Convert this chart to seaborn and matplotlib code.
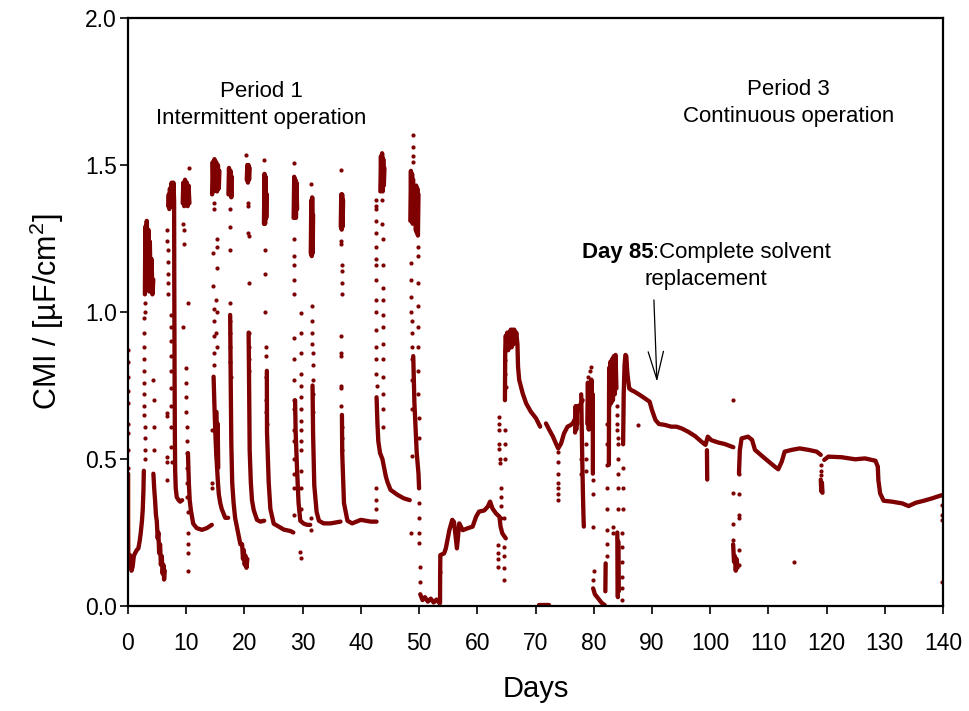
import numpy as np
import pandas as pd
import matplotlib
matplotlib.use("Agg")
import matplotlib.pyplot as plt
import seaborn as sns

nan = np.nan

# ---------------- data ----------------
# dense parts of the CMI record (NaN separates pieces)
p1_day = [0.02, 0.02, 0.05, 0.15, 0.34, 0.6, 0.8, 1.0, 1.2, 1.5, 1.78, 2.0, 2.18, 2.4, 2.53, 2.65, 2.72, nan,
          2.9, 2.98, 3.1, 3.22, 3.35, 3.5, 3.62, 3.75, 3.9, 4.05, 4.2, 4.35, nan,
          4.36, 4.5, 4.65, 4.8, 4.94, 5.1, 5.22, 5.35, 5.51, 5.65, 5.8, 5.95, 6.08, 6.2, 6.32, nan,
          6.9, 7.0, 7.1, 7.2, 7.35, 7.5, 7.65, 7.8, 7.92, 7.95, 8.0, 8.05, 8.1, 8.2, 8.38, 8.7, 8.96, 9.3, nan,
          9.4, 9.5, 9.65, 9.8, 9.95, 10.1, 10.25, 10.4, 10.55, nan,
          10.3, 10.45, 10.6, 10.8, 11.2, 11.8, 12.7, 13.55, 14.4, nan,
          14.45, 14.55, 14.7, 14.85, 15.0, 15.15, 15.3, 15.45, 15.6, 15.7, nan,
          14.7, 14.85, 15.0, 15.15, 15.3, 15.45, 15.6, 15.85, 16.1, 16.7, 17.2, nan,
          15.2, 15.3, 15.4, 15.5, nan,
          17.25, 17.35, 17.5, 17.62, 17.75, 17.85, nan,
          17.55, 17.65, 17.75, 17.9, 18.14, 18.4, 18.7, 19.0, 19.3, 19.6, 19.75, 19.9, 20.05, 20.2, 20.35, 20.5, nan,
          20.4, 20.5, 20.6, 20.7, 20.8, 20.9, nan,
          20.72, 20.8, 20.9, 21.1, 21.3, 21.6, 22.16, 22.73, 23.4, nan,
          23.35, 23.45, 23.55, 23.65, 23.75, 23.85, nan,
          23.85, 23.88, 24.17, 24.46, 25.03, 25.9, 26.75, 27.9, 28.4, nan,
          28.45, 28.55, 28.65, 28.75, 28.85, 28.95, 29.05, nan,
          28.7, 28.8, 29.05, 29.3, 29.6, 30.2, 30.8, 31.3, nan,
          31.4, 31.48, 31.56, 31.64, 31.72, 31.8, nan,
          31.7, 31.8, 32.0, 32.4, 32.8, 33.6, 34.8, 36.5, nan,
          36.55, 36.63, 36.71, 36.79, 36.87, 36.95, nan,
          36.75, 36.8, 37.1, 37.7, 38.5, 40.0, 41.7, 42.7, nan,
          43.35, 43.45, 43.55, 43.65, 43.75, 43.85, 43.95, 44.05, nan,
          42.7, 42.85, 43.0, 43.3, 43.7, 44.0, 44.3, 44.6, 45.1, 46.3, 47.4, 48.4, nan,
          48.5, 48.6, 48.7, 48.8, 48.9, 49.0, nan,
          49.4, 49.5, 49.6, 49.7, 49.8, 49.9, nan,
          49.0, 49.2, 49.6, 49.9, 50.0, nan,
          50.2, 50.6, 51.0, 51.5, 52.0, 52.5, 53.0, 53.5]
p1_cmi = [0.45, 0.30, 0.18, 0.15, 0.173, 0.12, 0.134, 0.17, 0.179, 0.19, 0.196, 0.22, 0.247, 0.29, 0.327, 0.39, 0.46, nan,
          1.06, 1.29, 1.10, 1.31, 1.08, 1.28, 1.07, 1.24, 1.07, 1.18, 1.06, 1.11, nan,
          0.45, 0.40, 0.36, 0.31, 0.29, 0.23, 0.25, 0.18, 0.21, 0.14, 0.17, 0.11, 0.14, 0.09, 0.12, nan,
          1.36, 1.40, 1.35, 1.42, 1.36, 1.44, 1.37, 1.44, 1.38, 1.10, 0.80, 0.58, 0.46, 0.40, 0.37, 0.36, 0.355, 0.36, nan,
          1.37, 1.44, 1.36, 1.45, 1.37, 1.44, 1.36, 1.43, 1.37, nan,
          0.52, 0.42, 0.36, 0.326, 0.28, 0.265, 0.259, 0.265, 0.276, nan,
          1.40, 1.51, 1.41, 1.52, 1.42, 1.51, 1.41, 1.50, 1.42, 1.48, nan,
          0.78, 0.68, 0.59, 0.52, 0.47, 0.42, 0.38, 0.35, 0.33, 0.30, 0.30, nan,
          0.66, 0.50, 0.62, 0.47, nan,
          1.40, 1.49, 1.40, 1.48, 1.39, 1.46, nan,
          0.99, 0.75, 0.55, 0.42, 0.35, 0.30, 0.27, 0.24, 0.21, 0.21, 0.16, 0.19, 0.14, 0.17, 0.13, 0.16, nan,
          1.45, 1.50, 1.44, 1.50, 1.45, 1.49, nan,
          0.93, 0.76, 0.53, 0.42, 0.36, 0.326, 0.293, 0.287, 0.29, nan,
          1.30, 1.47, 1.30, 1.46, 1.32, 1.40, nan,
          0.80, 0.59, 0.42, 0.33, 0.28, 0.27, 0.26, 0.255, 0.25, nan,
          1.32, 1.46, 1.33, 1.45, 1.32, 1.44, 1.35, nan,
          0.70, 0.59, 0.46, 0.35, 0.29, 0.28, 0.276, 0.276, nan,
          1.20, 1.38, 1.19, 1.39, 1.20, 1.33, nan,
          0.75, 0.58, 0.41, 0.32, 0.29, 0.281, 0.281, 0.287, nan,
          1.29, 1.40, 1.28, 1.40, 1.29, 1.38, nan,
          0.65, 0.52, 0.35, 0.29, 0.281, 0.293, 0.287, 0.287, nan,
          1.41, 1.53, 1.42, 1.54, 1.41, 1.52, 1.43, 1.49, nan,
          0.71, 0.62, 0.56, 0.52, 0.50, 0.47, 0.44, 0.42, 0.395, 0.378, 0.366, 0.36, nan,
          1.31, 1.48, 1.32, 1.47, 1.30, 1.45, nan,
          1.28, 1.43, 1.27, 1.42, 1.26, 1.40, nan,
          0.85, 0.69, 0.52, 0.45, 0.40, nan,
          0.04, 0.02, 0.03, 0.015, 0.025, 0.012, 0.022, 0.01]

p2_day = [53.6, 53.62, 53.65, 54.3, 54.6, 55.2, 55.7, 56.0, 56.5, 56.9, 57.5, 58.3, 59.2, 59.8, 60.3, 61.2, 61.8,
          62.2, 62.6, 63.2, 63.8, 64.0, 64.3, 64.9, nan,
          64.75, 64.8, 64.9, 65.0, 65.15, 65.3, 65.45, 65.6, 65.75, 65.9, 66.05, 66.2, 66.35, 66.5, 66.7, 66.9,
          67.0, 67.2, 67.8, 68.4, 69.2, 70.1, 70.8, nan,
          71.8, 72.4, 73.0, 73.5, 73.9, 74.4, 74.9, 75.5, 76.0, 76.4, 76.98, 77.5, 78.1, nan,
          70.6, 72.4, nan,
          76.8, 76.9, 77.0, 77.1, 77.2, nan,
          77.85, 77.95, 78.05, 78.15, 78.25, 78.3, nan,
          78.9, 79.0, 79.15, 79.3, 79.45, 79.6, 79.75, 79.85, 79.85, nan,
          79.9, 80.2, 80.6, 81.0, 81.4, 81.9, nan,
          82.0, 82.05, nan,
          82.6, 82.65, nan,
          82.7, 82.85, 83.0, 83.15, 83.3, 83.45, 83.6, 83.75, 83.9, nan,
          84.05, 84.15, 84.2, 84.3]
p2_cmi = [0.01, 0.10, 0.173, 0.179, 0.196, 0.258, 0.293, 0.286, 0.196, 0.281, 0.258, 0.264, 0.270, 0.304, 0.321, 0.325, 0.338,
          0.355, 0.332, 0.315, 0.304, 0.270, 0.247, 0.230, nan,
          0.70, 0.87, 0.92, 0.87, 0.93, 0.87, 0.93, 0.88, 0.94, 0.88, 0.94, 0.89, 0.94, 0.90, 0.93, 0.89,
          0.814, 0.769, 0.723, 0.689, 0.661, 0.638, 0.61, nan,
          0.621, 0.598, 0.576, 0.553, 0.536, 0.553, 0.587, 0.61, 0.615, 0.621, 0.644, 0.678, 0.70, nan,
          0.004, 0.004, nan,
          0.59, 0.68, 0.60, 0.68, 0.62, nan,
          0.72, 0.60, 0.48, 0.38, 0.30, 0.27, nan,
          0.62, 0.76, 0.60, 0.75, 0.61, 0.77, 0.62, 0.72, 0.45, nan,
          0.06, 0.04, 0.03, 0.02, 0.01, 0.003, nan,
          0.05, 0.145, nan,
          0.48, 0.81, nan,
          0.68, 0.83, 0.69, 0.84, 0.70, 0.85, 0.72, 0.854, 0.74, nan,
          0.25, 0.03, 0.22, 0.05]

p3_day = [85.05, 85.15, 85.3, 85.45, 85.6, 85.75, 85.9, 86.1, 86.4, 87.0, 87.9, 88.8, 89.6, 90.0, 90.6, 91.2,
          92.2, 93.3, 94.2, 95.1, 96.2, 97.4, 98.5, 99.2, 99.6, 100.2, 101.4, 102.5, 103.98, nan,
          99.45, 99.5, nan,
          103.95, 104.1, 104.25, 104.4, 104.55, 104.7, nan,
          104.95, 105.1, 105.4, 106.5, 107.2, 107.7, 109.4, 111.1, 111.7, 112.3, 112.8, 114.0, 115.4, 116.9,
          118.3, 119.0, nan,
          119.0, 119.1, 119.2, 119.3, nan,
          119.6, 120.3, 122.6, 124.9, 126.6, 128.4, 128.8, 128.9, 129.2, 129.8, 131.2, 133.0, 134.1, 135.3,
          136.7, 138.1, 139.8]
p3_cmi = [0.55, 0.72, 0.82, 0.854, 0.85, 0.80, 0.77, 0.74, 0.735, 0.729, 0.718, 0.706, 0.695, 0.667, 0.633, 0.619,
          0.616, 0.61, 0.61, 0.604, 0.593, 0.578, 0.559, 0.548, 0.576, 0.564, 0.556, 0.551, 0.540, nan,
          0.53, 0.43, nan,
          0.21, 0.15, 0.17, 0.12, 0.16, 0.13, nan,
          0.45, 0.53, 0.570, 0.576, 0.565, 0.531, 0.502, 0.474, 0.465, 0.491, 0.525, 0.531, 0.536, 0.531,
          0.525, 0.514, nan,
          0.43, 0.39, 0.42, 0.385, nan,
          0.497, 0.508, 0.506, 0.499, 0.502, 0.494, 0.474, 0.428, 0.383, 0.358, 0.355, 0.349, 0.340, 0.351,
          0.358, 0.366, 0.377]

# sparse measurement points (transients)
p1_dot_day = [0.0, 0.0, 0.0, 0.0, 0.0, 0.0, 0.0, 0.0, 0.0,
              2.76, 2.76, 2.78, 2.78, 2.8, 2.8, 2.8, 2.82, 2.82, 2.84, 2.84, 2.86, 2.86, 2.9, 2.95,
              4.36, 4.4, 4.4, 4.42,
              6.7, 6.75, 6.8, 6.8, 6.85, 6.85, 6.9, 6.66, 6.7, 6.66, 6.7, 6.75,
              7.35, 7.35, 7.35, 7.4, 7.4, 7.4, 7.45, 7.45, 7.45, 7.5,
              9.5, 9.55, 9.6, 9.5, 10.4, 10.3,
              9.9, 9.9, 10.0, 10.0, 10.05, 10.1, 10.1, 10.15, 10.2, 10.2, 10.25, 10.3, 10.3, 10.35, 10.35,
              14.7, 14.7, 14.65, 14.65, 14.7, 14.7, 14.75, 14.75, 14.8, 14.45, 14.45, 14.5,
              15.3, 15.35, 15.3, 15.2, 15.25, 15.2, 15.25,
              17.6, 17.6, 17.55, 17.5, 17.57, 17.57, 17.6, 17.6, 17.62,
              20.32, 20.55, 20.6, 20.65, 20.7, 20.7, 20.72, 20.72, 20.74, 20.75,
              23.35, 23.5, 23.55, 23.6, 23.65, 23.65, 23.7, 23.75, 23.75, 23.8,
              28.55, 28.55, 28.55, 28.55, 28.55, 28.55, 28.55, 28.57, 28.57, 28.57, 28.57, 28.6, 28.6, 28.6,
              28.6, 28.6, 28.59,
              29.74, 29.74, 29.74, 29.75, 29.75, 29.75, 29.76, 29.76, 29.76, 29.77, 29.77, 29.78, 29.78, 29.8,
              29.6, 29.65,
              31.5, 31.6, 31.6, 31.65, 31.65, 31.7, 31.7, 31.7, 31.72, 31.72, 31.45, 31.45,
              36.6, 36.65, 36.65, 36.7, 36.7, 36.75, 36.75, 36.6, 36.6, 36.62, 36.62, 36.65, 36.65, 36.7, 36.7,
              36.72,
              42.55, 42.55, 42.58, 42.58, 42.6, 42.6, 42.6, 42.62, 42.62, 42.62, 42.65, 42.65, 42.65, 42.68,
              42.68, 42.7, 42.55, 42.55, 42.55,
              43.7, 43.7, 43.72, 43.72, 43.75, 43.75, 43.78, 43.78, 43.8, 43.8, 43.82, 43.82, 43.85, 43.85,
              48.95, 48.95, 49.0, 49.0, 48.6, 48.6, 48.65, 48.65, 48.7, 48.7, 48.72, 48.72, 48.75, 48.78, 48.8,
              48.6,
              49.75, 49.75, 49.8, 49.8, 49.85, 49.85, 49.9, 49.9, 49.95, 49.95, 50.0, 50.0, 50.05, 50.05, 50.1,
              50.1]
p1_dot_cmi = [0.87, 0.83, 0.78, 0.73, 0.69, 0.62, 0.59, 0.53, 0.47,
              0.98, 0.93, 0.88, 0.84, 0.80, 0.76, 0.72, 0.68, 0.65, 0.61, 0.57, 0.53, 0.50, 1.03, 1.00,
              0.77, 0.70, 0.61, 0.53,
              1.28, 1.24, 1.21, 1.17, 1.13, 1.10, 1.06, 0.656, 0.645, 0.506, 0.49, 0.43,
              0.99, 0.95, 0.90, 0.85, 0.80, 0.74, 0.68, 0.61, 0.54, 0.49,
              1.30, 1.28, 1.23, 0.95, 1.49, 1.03,
              0.81, 0.76, 0.71, 0.66, 0.61, 0.56, 0.52, 0.47, 0.42, 0.37, 0.32, 0.25, 0.21, 0.18, 0.12,
              1.37, 1.35, 1.20, 1.09, 1.01, 0.97, 0.92, 0.86, 0.82, 0.60, 0.42, 0.40,
              1.25, 1.22, 1.15, 1.04, 1.00, 0.93, 0.88,
              1.35, 1.29, 1.21, 1.03, 0.97, 0.93, 0.88, 0.83, 0.78,
              1.534, 1.37, 1.36, 1.27, 1.26, 1.10, 0.93, 0.88, 0.84, 0.80,
              1.517, 1.21, 1.13, 1.00, 0.88, 0.85, 0.78, 0.70, 0.66, 0.62,
              1.25, 1.19, 1.16, 1.11, 1.06, 0.91, 0.84, 0.77, 0.70, 0.67, 0.60, 0.56, 0.50, 0.45,
              0.40, 0.31, 1.506,
              0.995, 0.93, 0.86, 0.79, 0.75, 0.71, 0.67, 0.63, 0.60, 0.56, 0.53, 0.46, 0.40, 0.33,
              0.185, 0.163,
              1.437, 1.02, 0.97, 0.93, 0.89, 0.86, 0.82, 0.77, 0.72, 0.66, 0.258, 0.30,
              1.483, 1.24, 1.23, 1.16, 1.14, 1.10, 1.06, 0.92, 0.86, 0.85, 0.75, 0.74, 0.68, 0.61, 0.57,
              0.53,
              1.38, 1.36, 1.35, 1.31, 1.27, 1.22, 1.18, 1.16, 1.11, 1.04, 1.00, 0.94, 0.88, 0.84,
              0.79, 0.75, 0.40, 0.36, 0.33,
              1.38, 1.30, 1.25, 1.16, 1.08, 1.04, 0.99, 0.95, 0.89, 0.84, 0.78, 0.72, 0.67, 0.61,
              1.602, 1.56, 1.53, 1.511, 1.165, 1.11, 1.05, 1.00, 0.97, 0.93, 0.88, 0.84, 0.77, 0.67, 0.51,
              0.247,
              1.22, 1.19, 1.10, 1.02, 0.95, 0.88, 0.80, 0.72, 0.64, 0.57, 0.35, 0.30, 0.25, 0.213, 0.133,
              0.08]

p2_dot_day = [53.65, 63.7, 63.7, 63.75, 63.8, 63.8, 63.82, 63.85, 63.6, 63.6, 63.62, 63.62,
              64.6, 64.6, 64.62, 64.62, 64.65, 64.8, 64.8, 64.85, 64.8, 64.82, 64.82,
              64.0, 64.0, 64.02, 64.02, 73.9, 73.9, 73.92, 73.92, 73.95, 73.95, 73.95,
              77.9, 77.8, 78.6, 78.6, 78.65, 79.6, 79.3, 79.0, 79.9, 79.9, 79.85, 79.9, 80.0,
              82.2, 82.2, 82.25, 82.25, 82.3, 82.3, 82.35, 82.35, 83.3, 83.35,
              84.0, 84.0, 84.05, 84.05, 84.1, 84.1, 84.15, 84.15, 84.15, 84.2,
              84.85, 84.85, 84.85, 84.9, 84.9, 84.9, 84.95, 84.95, 84.95]
p2_dot_cmi = [0.117, 0.644, 0.62, 0.60, 0.55, 0.535, 0.50, 0.485, 0.208, 0.18, 0.16, 0.134,
              0.30, 0.20, 0.17, 0.13, 0.088, 0.837, 0.79, 0.745, 0.60, 0.55, 0.50,
              0.40, 0.37, 0.34, 0.30, 0.525, 0.49, 0.45, 0.42, 0.40, 0.38, 0.36,
              0.50, 0.45, 0.55, 0.50, 0.46, 0.814, 0.80, 0.78, 0.43, 0.38, 0.27, 0.088, 0.12,
              0.62, 0.55, 0.48, 0.40, 0.33, 0.26, 0.21, 0.17, 0.27, 0.25,
              0.68, 0.65, 0.62, 0.60, 0.57, 0.55, 0.50, 0.45, 0.40, 0.33,
              0.247, 0.20, 0.15, 0.10, 0.06, 0.02, 0.33, 0.40, 0.47]

p3_dot_day = [87.6, 104.0, 104.0, 104.0, 104.0, 104.9, 104.9, 104.9, 104.9, 104.9, 104.95,
              119.0, 119.05, 119.1, 114.4, 139.8, 139.8, 139.8, 139.8]
p3_dot_cmi = [0.616, 0.70, 0.383, 0.28, 0.225, 0.45, 0.38, 0.31, 0.30, 0.19, 0.14,
              0.48, 0.46, 0.445, 0.151, 0.343, 0.309, 0.292, 0.083]

x_ticks = [0, 10, 20, 30, 40, 50, 60, 70, 80, 90, 100, 110, 120, 130, 140]
y_ticks = [0.0, 0.5, 1.0, 1.5, 2.0]
y_tick_labels = ["0.0", "0.5", "1.0", "1.5", "2.0"]

# ---------------- build tables ----------------
def pieces(days, vals, tag):
    rows, seg = [], 0
    for d, v in zip(days, vals):
        if np.isnan(d):
            seg += 1
            continue
        rows.append((f"{tag}{seg}", d, v))
    return rows

trace = pd.DataFrame(pieces(p1_day, p1_cmi, "a") + pieces(p2_day, p2_cmi, "b") + pieces(p3_day, p3_cmi, "c"),
                     columns=["seg", "day", "cmi"])
dots = pd.DataFrame({"day": p1_dot_day + p2_dot_day + p3_dot_day,
                     "cmi": p1_dot_cmi + p2_dot_cmi + p3_dot_cmi})

# ---------------- style ----------------
sns.set_style("ticks")
plt.rcParams["font.family"] = ["Liberation Sans", "DejaVu Sans"]
plt.rcParams["mathtext.fontset"] = "custom"
plt.rcParams["mathtext.rm"] = "Liberation Sans"
plt.rcParams["mathtext.it"] = "Liberation Sans"
plt.rcParams["mathtext.default"] = "regular"
plt.rcParams["text.color"] = "black"
plt.rcParams["axes.labelcolor"] = "black"
plt.rcParams["xtick.color"] = "black"
plt.rcParams["ytick.color"] = "black"

RED = "#7f0000"

fig = plt.figure(figsize=(9.69, 7.11), dpi=100)
ax = fig.add_axes([128 / 969, 1 - 606 / 711, (943 - 128) / 969, (606 - 18) / 711])

sns.lineplot(data=trace, x="day", y="cmi", units="seg", estimator=None, sort=False,
             color=RED, lw=3.1, solid_capstyle="round", solid_joinstyle="round",
             legend=False, ax=ax)
sns.scatterplot(data=dots, x="day", y="cmi", color=RED, s=9, linewidth=0, ax=ax, legend=False)

ax.set_xlim(0, 140)
ax.set_ylim(0, 2.0)
ax.set_xticks(x_ticks)
ax.set_xticklabels([str(t) for t in x_ticks])
ax.set_yticks(y_ticks)
ax.set_yticklabels(y_tick_labels)

for sp in ax.spines.values():
    sp.set_visible(True)
    sp.set_linewidth(1.6)
    sp.set_color("black")
ax.tick_params(axis="both", direction="out", length=6, width=1.2, color="black",
               labelsize=16.5, labelcolor="black")
ax.tick_params(axis="x", pad=13)
ax.tick_params(axis="y", pad=2)

ax.set_xlabel("Days", fontsize=21, labelpad=14, color="black")
ax.set_ylabel("CMI / [µF/cm$^2$]", fontsize=22, labelpad=14, color="black")

# annotations
ax.text(22.9, 1.731, "Period 1", ha="center", va="baseline", fontsize=16, color="black")
ax.text(22.9, 1.639, "Intermittent operation", ha="center", va="baseline", fontsize=16, color="black")
ax.text(113.4, 1.738, "Period 3", ha="center", va="baseline", fontsize=16, color="black")
ax.text(113.4, 1.646, "Continuous operation", ha="center", va="baseline", fontsize=16, color="black")
ax.text(90.24, 1.184, "Day 85", ha="right", va="baseline", fontsize=16, fontweight="bold", color="black")
ax.text(90.24, 1.184, ":Complete solvent", ha="left", va="baseline", fontsize=16, color="black")
ax.text(99.2, 1.092, "replacement", ha="center", va="baseline", fontsize=16, color="black")
ax.annotate("", xy=(90.86, 0.763), xytext=(90.34, 1.041),
            arrowprops=dict(arrowstyle="->,head_length=2.0,head_width=0.55", lw=0.9,
                            color="black", shrinkA=0, shrinkB=0, mutation_scale=10))

fig.savefig("out.png", dpi=100)
